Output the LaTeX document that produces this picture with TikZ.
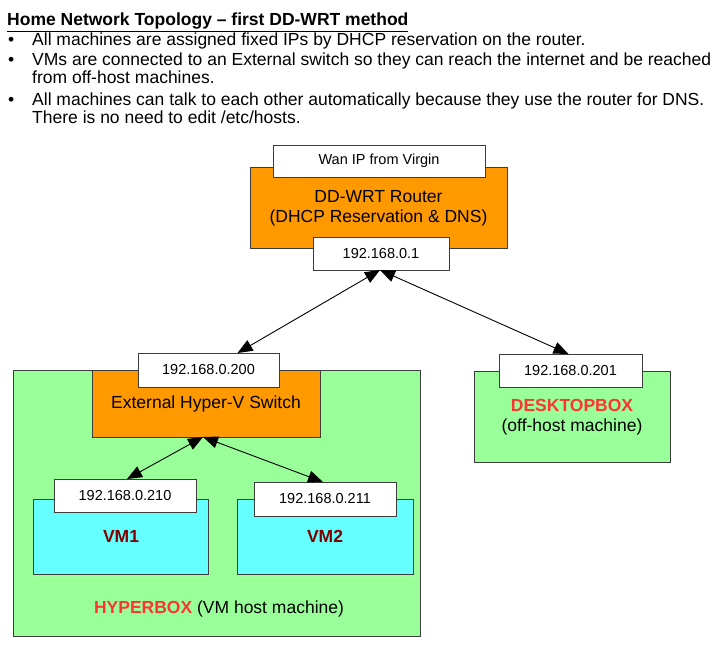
\documentclass[tikz,border=0pt]{standalone}
\usepackage{fontspec}
\setmainfont{Liberation Sans}
\usetikzlibrary{arrows.meta}
\definecolor{orng}{HTML}{FF9900}
\definecolor{lgreen}{HTML}{99FF99}
\definecolor{lcyan}{HTML}{66FFFF}
\definecolor{dred}{HTML}{800000}
\definecolor{bred}{HTML}{FF3333}
\definecolor{edge}{HTML}{3C3C3C}
\tikzset{
  box/.style={draw=edge, line width=1pt, inner sep=0pt, outer sep=0pt},
  ipbox/.style={box, fill=white, font=\fontsize{14.5}{16}\selectfont},
  bigtxt/.style={font=\fontsize{17.5}{20}\selectfont, inner sep=0pt},
  txtline/.style={anchor=base west, inner sep=0pt, font=\fontsize{17.5}{20}\selectfont},
  link/.style={line width=0.9pt, {Triangle[length=15pt,width=12pt]}-{Triangle[length=15pt,width=12pt]}}
}
\begin{document}
\begin{tikzpicture}[x=1pt,y=-1pt]
\useasboundingbox[fill=white] (0,0) rectangle (725,650);
% header text
\node[txtline, font=\fontsize{17.5}{20}\selectfont\bfseries] (title) at (7,26) {\underline{Home Network Topology – first DD-WRT method}};
\node[txtline] (b1) at (8,46) {•};
\node[txtline] (t1) at (32,46) {All machines are assigned fixed IPs by DHCP reservation on the router.};
\node[txtline] (b2) at (8,66) {•};
\node[txtline] (t2) at (32,66) {VMs are connected to an External switch so they can reach the internet and be reached};
\node[txtline] (t2b) at (32,84) {from off-host machines.};
\node[txtline] (b3) at (8,106) {•};
\node[txtline] (t3) at (32,106) {All machines can talk to each other automatically because they use the router for DNS.};
\node[txtline] (t3b) at (32,124) {There is no need to edit /etc/hosts.};
% router
\node[box, fill=orng, minimum width=257pt, minimum height=81pt] (router) at (378.5,207.5) {};
\node[bigtxt, align=center] (routertxt) at (378.5,208) {DD-WRT Router\\(DHCP Reservation \& DNS)};
\node[ipbox, minimum width=212pt, minimum height=32pt] (wan) at (379,161) {Wan IP from Virgin};
\node[ipbox, minimum width=136pt, minimum height=33pt] (ip1) at (381,253.5) {192.168.0.1};
% hyperbox
\node[box, fill=lgreen, minimum width=407pt, minimum height=266pt] (hyper) at (216.5,503) {};
\node[box, fill=orng, minimum width=228pt, minimum height=67pt] (switch) at (206,403.5) {};
\node[bigtxt] (switchtxt) at (206,404) {External Hyper-V Switch};
\node[ipbox, minimum width=141pt, minimum height=34pt] (ip200) at (208.5,370) {192.168.0.200};
\node[box, fill=lcyan, minimum width=175pt, minimum height=75pt, font=\fontsize{17.5}{21}\selectfont\bfseries, text=dred] (vm1) at (121,536.5) {VM1};
\node[ipbox, minimum width=142pt, minimum height=33pt] (ip210) at (125,495.5) {192.168.0.210};
\node[box, fill=lcyan, minimum width=176pt, minimum height=75pt, font=\fontsize{17.5}{21}\selectfont\bfseries, text=dred] (vm2) at (325,536.5) {VM2};
\node[ipbox, minimum width=142pt, minimum height=34pt] (ip211) at (325,499) {192.168.0.211};
\node[bigtxt] (hyperlbl) at (219,609) {\textcolor{bred}{\bfseries HYPERBOX} (VM host machine)};
% desktop
\node[box, fill=lgreen, minimum width=196pt, minimum height=91pt] (desk) at (572,416.5) {};
\node[bigtxt, align=center] (desktxt) at (572,417) {\textcolor{bred}{\bfseries DESKTOPBOX}\\(off-host machine)};
\node[ipbox, minimum width=143pt, minimum height=33pt] (ip201) at (570.5,370.5) {192.168.0.201};
% connectors
\draw[link] ([xshift=-1pt]ip1.south) -- ([xshift=29pt]ip200.north);
\draw[link] ([xshift=-1pt]ip1.south) -- ([xshift=-2pt]ip201.north);
\draw[link] ([xshift=-3pt]switch.south) -- ([xshift=2pt]ip210.north);
\draw[link] ([xshift=-3pt]switch.south) -- ([xshift=-2pt]ip211.north);
\end{tikzpicture}
\end{document}
